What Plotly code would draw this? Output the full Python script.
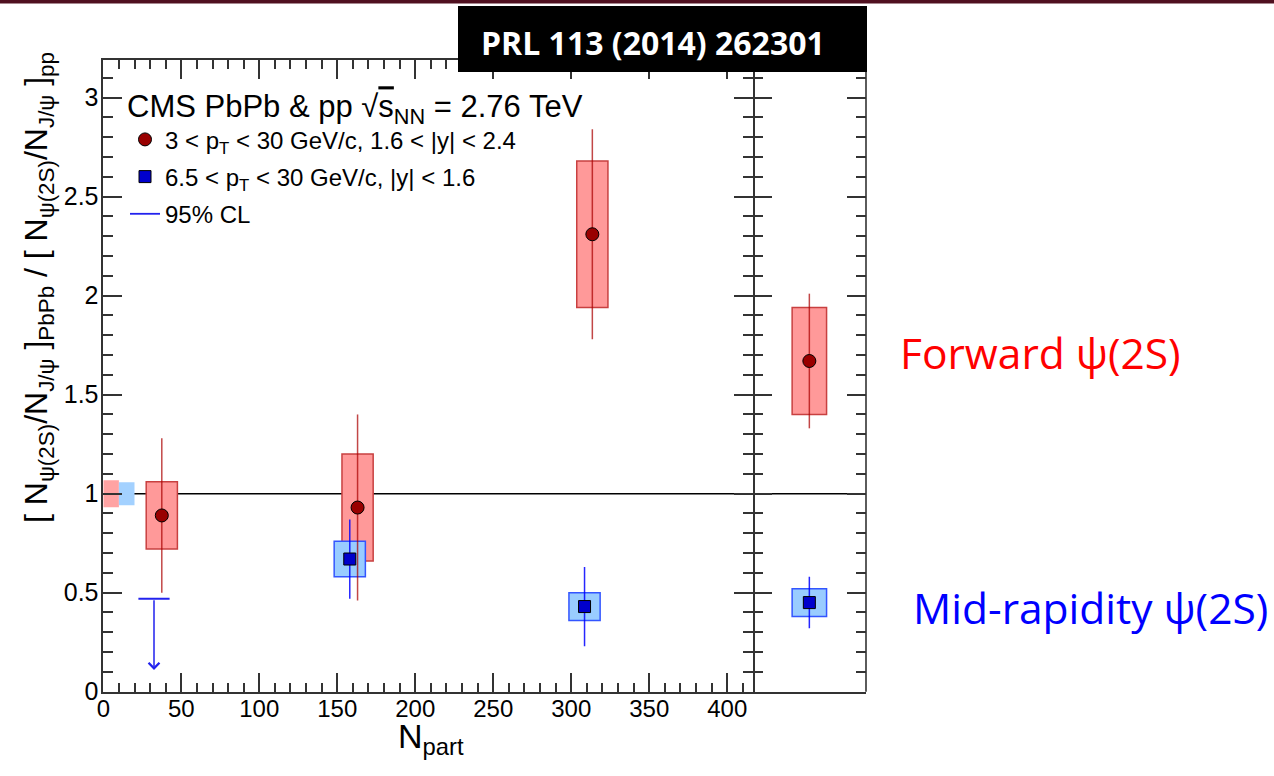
import plotly.graph_objects as go

# ---------------- data ----------------
# Forward rapidity: 3 < pT < 30 GeV/c, 1.6 < |y| < 2.4
fwd_npart = [37.5, 163.0, 313.5]
fwd_ratio = [0.89, 0.93, 2.31]
fwd_stat = [0.39, 0.47, 0.53]
fwd_syst = [0.17, 0.27, 0.37]

# Mid rapidity: 6.5 < pT < 30 GeV/c, |y| < 1.6
mid_npart = [158.0, 308.5]
mid_ratio = [0.67, 0.43]
mid_stat = [0.20, 0.20]
mid_syst = [0.09, 0.07]

# Mid rapidity, peripheral bin: 95% CL upper limit
ul_npart = [32.5]
ul_value = [0.47]

# Centrality-integrated (minimum bias) results, right panel
mb_fwd_ratio = [1.67]
mb_fwd_stat = [0.34]
mb_fwd_syst = [0.27]
mb_mid_ratio = [0.45]
mb_mid_stat = [0.13]
mb_mid_syst = [0.07]

# Global (pp reference) uncertainties drawn at unity
glob_fwd = 0.068
glob_mid = 0.058

x_ticks = [0, 50, 100, 150, 200, 250, 300, 350, 400]
y_ticks = [0, 0.5, 1, 1.5, 2, 2.5, 3]

# ---------------- style / layout constants ----------------
W, H = 1274, 776
FONT = "Liberation Sans, Arial, sans-serif"
X_LEFT, X_DIV, X_RIGHT = 103.3 / W, 752.7 / W, 866.0 / W
Y_BOT, Y_TOP = 1 - 691.7 / H, 1 - 60.0 / H
X_RANGE = [0, 416.3]
Y_RANGE = [0, 3.19]
BOX_HALF = 10.0          # half width of systematic boxes (Npart units)
MB_X = 0.5               # position of the integrated point in the right panel
MB_HALF = 0.152
ARROW_LEN = 0.36
GLOB_FWD_X = (0, 10)
GLOB_MID_X = (10, 20)

RED_MARK = "#990000"
RED_LINE = "rgba(170,0,0,0.72)"
RED_FILL = "#FF9999"
RED_EDGE = "#C84040"
BLUE_MARK = "#0000CC"
BLUE_LINE = "rgba(0,0,255,0.85)"
BLUE_FILL = "#99CCFF"
BLUE_EDGE = "#3355FF"
AXIS_COL = "#333333"
AXIS_W = 1.6

fig = go.Figure()

# forward points with statistical errors
fig.add_trace(go.Scatter(
    x=fwd_npart, y=fwd_ratio, mode="markers",
    name="3 &lt; p<sub>T</sub> &lt; 30 GeV/c, 1.6 &lt; |y| &lt; 2.4",
    legendgroup="a",
    marker=dict(symbol="circle", size=13, color=RED_MARK,
                line=dict(color="black", width=1)),
    error_y=dict(type="data", array=fwd_stat, width=0, thickness=1.5, color=RED_LINE),
    xaxis="x", yaxis="y"))

# mid-rapidity points with statistical errors
fig.add_trace(go.Scatter(
    x=mid_npart, y=mid_ratio, mode="markers",
    name="6.5 &lt; p<sub>T</sub> &lt; 30 GeV/c, |y| &lt; 1.6",
    legendgroup="b",
    marker=dict(symbol="square", size=12, color=BLUE_MARK,
                line=dict(color="black", width=1)),
    error_y=dict(type="data", array=mid_stat, width=0, thickness=1.5, color=BLUE_LINE),
    xaxis="x", yaxis="y"))

# upper limit bar
fig.add_trace(go.Scatter(
    x=ul_npart, y=ul_value, mode="lines", name="95% CL", legendgroup="c",
    line=dict(color="#2222EE", width=1.8),
    error_x=dict(type="constant", value=BOX_HALF, width=0, thickness=2, color="#2222EE"),
    xaxis="x", yaxis="y"))

# minimum bias points (right panel)
fig.add_trace(go.Scatter(
    x=[MB_X], y=mb_fwd_ratio, mode="markers", showlegend=False,
    marker=dict(symbol="circle", size=13, color=RED_MARK, line=dict(color="black", width=1)),
    error_y=dict(type="data", array=mb_fwd_stat, width=0, thickness=1.5, color=RED_LINE),
    xaxis="x2", yaxis="y2"))
fig.add_trace(go.Scatter(
    x=[MB_X], y=mb_mid_ratio, mode="markers", showlegend=False,
    marker=dict(symbol="square", size=12, color=BLUE_MARK, line=dict(color="black", width=1)),
    error_y=dict(type="data", array=mb_mid_stat, width=0, thickness=1.5, color=BLUE_LINE),
    xaxis="x2", yaxis="y2"))

shapes = []
# unity lines
shapes.append(dict(type="line", xref="x domain", yref="y", x0=0, x1=1, y0=1, y1=1,
                   line=dict(color="black", width=1.5), layer="below"))
shapes.append(dict(type="line", xref="x2 domain", yref="y2", x0=0, x1=1, y0=1, y1=1,
                   line=dict(color="black", width=1.5), layer="below"))
# global uncertainty boxes
shapes.append(dict(type="rect", xref="x", yref="y", x0=GLOB_FWD_X[0], x1=GLOB_FWD_X[1],
                   y0=1 - glob_fwd, y1=1 + glob_fwd, fillcolor="#FFA3A3",
                   line=dict(width=0), layer="below"))
shapes.append(dict(type="rect", xref="x", yref="y", x0=GLOB_MID_X[0], x1=GLOB_MID_X[1],
                   y0=1 - glob_mid, y1=1 + glob_mid, fillcolor="#A3D1FF",
                   line=dict(width=0), layer="below"))
# systematic boxes
for xv, yv, sv in zip(fwd_npart, fwd_ratio, fwd_syst):
    shapes.append(dict(type="rect", xref="x", yref="y", x0=xv - BOX_HALF, x1=xv + BOX_HALF,
                       y0=yv - sv, y1=yv + sv, fillcolor=RED_FILL,
                       line=dict(color=RED_EDGE, width=1.5), layer="below"))
for xv, yv, sv in zip(mid_npart, mid_ratio, mid_syst):
    shapes.append(dict(type="rect", xref="x", yref="y", x0=xv - BOX_HALF, x1=xv + BOX_HALF,
                       y0=yv - sv, y1=yv + sv, fillcolor=BLUE_FILL,
                       line=dict(color=BLUE_EDGE, width=1.5), layer="below"))
shapes.append(dict(type="rect", xref="x2", yref="y2", x0=MB_X - MB_HALF, x1=MB_X + MB_HALF,
                   y0=mb_fwd_ratio[0] - mb_fwd_syst[0], y1=mb_fwd_ratio[0] + mb_fwd_syst[0],
                   fillcolor=RED_FILL, line=dict(color=RED_EDGE, width=1.5), layer="below"))
shapes.append(dict(type="rect", xref="x2", yref="y2", x0=MB_X - MB_HALF, x1=MB_X + MB_HALF,
                   y0=mb_mid_ratio[0] - mb_mid_syst[0], y1=mb_mid_ratio[0] + mb_mid_syst[0],
                   fillcolor=BLUE_FILL, line=dict(color=BLUE_EDGE, width=1.5), layer="below"))
# right-hand frame of the integrated panel
shapes.append(dict(type="line", xref="x2 domain", yref="y2 domain", x0=1, x1=1, y0=0, y1=1,
                   line=dict(color=AXIS_COL, width=AXIS_W), layer="above"))
# header strip and reference box
shapes.append(dict(type="rect", xref="paper", yref="paper", x0=0, x1=1, y0=1 - 3.5 / H, y1=1,
                   fillcolor="#501020", line=dict(width=0), layer="above"))
shapes.append(dict(type="rect", xref="paper", yref="paper", x0=458 / W, x1=867 / W,
                   y0=1 - 72 / H, y1=1 - 6 / H, fillcolor="black", line=dict(width=0),
                   layer="above"))

annotations = [
    # upper-limit arrow
    dict(x=ul_npart[0], y=ul_value[0] - ARROW_LEN, ax=ul_npart[0], ay=ul_value[0],
         xref="x", yref="y", axref="x", ayref="y", text="", showarrow=True,
         arrowhead=4, arrowsize=1.4, arrowwidth=1.5, arrowcolor="#2222EE", standoff=0),
    dict(text="PRL 113 (2014) 262301", x=653 / W, y=1 - 42 / H, xref="paper", yref="paper",
         xanchor="center", yanchor="middle", showarrow=False,
         font=dict(family="Open Sans", size=32, color="white", weight="bold")),
    dict(text="Forward ψ(2S)", x=898 / W, y=1 - 353 / H, xref="paper", yref="paper",
         xanchor="left", yanchor="middle", showarrow=False,
         font=dict(family="Open Sans", size=42.5, color="#FF0000")),
    dict(text="Mid-rapidity ψ(2S)", x=911 / W, y=1 - 607 / H, xref="paper", yref="paper",
         xanchor="left", yanchor="middle", showarrow=False,
         font=dict(family="Open Sans", size=42.5, color="#0000FF")),
    dict(text="N<sub>part</sub>", x=431 / W, y=1 - 738 / H, xref="paper", yref="paper",
         xanchor="center", yanchor="middle",
         showarrow=False, font=dict(family=FONT, size=34, color="black")),
    dict(text="[ N<sub>ψ(2S)</sub>/N<sub>J/ψ</sub> ]<sub>PbPb</sub> / "
              "[ N<sub>ψ(2S)</sub>/N<sub>J/ψ</sub> ]<sub>pp</sub>",
         x=38 / W, y=1 - 288 / H, xref="paper", yref="paper", textangle=-90,
         xanchor="center", yanchor="middle",
         showarrow=False, font=dict(family=FONT, size=32, color="black")),
]

axis_common = dict(showgrid=False, zeroline=False, showline=True, linecolor=AXIS_COL,
                   linewidth=AXIS_W, tickcolor=AXIS_COL, tickwidth=1.5)

fig.update_layout(
    width=W, height=H,
    margin=dict(l=0, r=0, t=0, b=0, autoexpand=False),
    paper_bgcolor="white", plot_bgcolor="white",
    font=dict(family=FONT, color="black"),
    xaxis=dict(domain=[X_LEFT, X_DIV], range=X_RANGE, anchor="y",
               tickmode="array", tickvals=x_ticks, ticks="inside", ticklen=19,
               mirror="ticks", tickfont=dict(size=24, family=FONT),
               ticklabelstandoff=-5,
               minor=dict(dtick=10, ticks="inside", ticklen=9, tickcolor=AXIS_COL,
                          tickwidth=1.5, showgrid=False),
               **axis_common),
    yaxis=dict(domain=[Y_BOT, Y_TOP], range=Y_RANGE, anchor="x",
               tickmode="array", tickvals=y_ticks, ticks="inside", ticklen=19,
               mirror="ticks", tickfont=dict(size=25, family=FONT),
               ticklabelstandoff=-2,
               minor=dict(dtick=0.1, ticks="inside", ticklen=10, tickcolor=AXIS_COL,
                          tickwidth=1.5, showgrid=False),
               **axis_common),
    xaxis2=dict(domain=[X_DIV, X_RIGHT], range=[0, 1], anchor="y2",
                showticklabels=False, ticks="", mirror=True, **axis_common),
    yaxis2=dict(domain=[Y_BOT, Y_TOP], range=Y_RANGE, anchor="x2",
                tickmode="array", tickvals=y_ticks, ticks="inside", ticklen=19,
                mirror="ticks", showticklabels=False,
                minor=dict(dtick=0.1, ticks="inside", ticklen=10, tickcolor=AXIS_COL,
                           tickwidth=1.5, showgrid=False),
                showgrid=False, zeroline=False, showline=False,
                tickcolor=AXIS_COL, tickwidth=1.5),
    shapes=shapes,
    annotations=annotations,
    legend=dict(x=125 / W, y=1 - 77 / H, xanchor="left", yanchor="top",
                bgcolor="rgba(0,0,0,0)", borderwidth=0,
                font=dict(size=24, family=FONT, color="black"),
                title=dict(text="CMS PbPb &amp; pp √<span style='text-decoration:overline'>"
                                "s</span><sub>NN</sub> = 2.76 TeV",
                           font=dict(size=31, family=FONT, color="black")),
                tracegroupgap=3, traceorder="grouped"),
)

fig.write_html("out.html")
